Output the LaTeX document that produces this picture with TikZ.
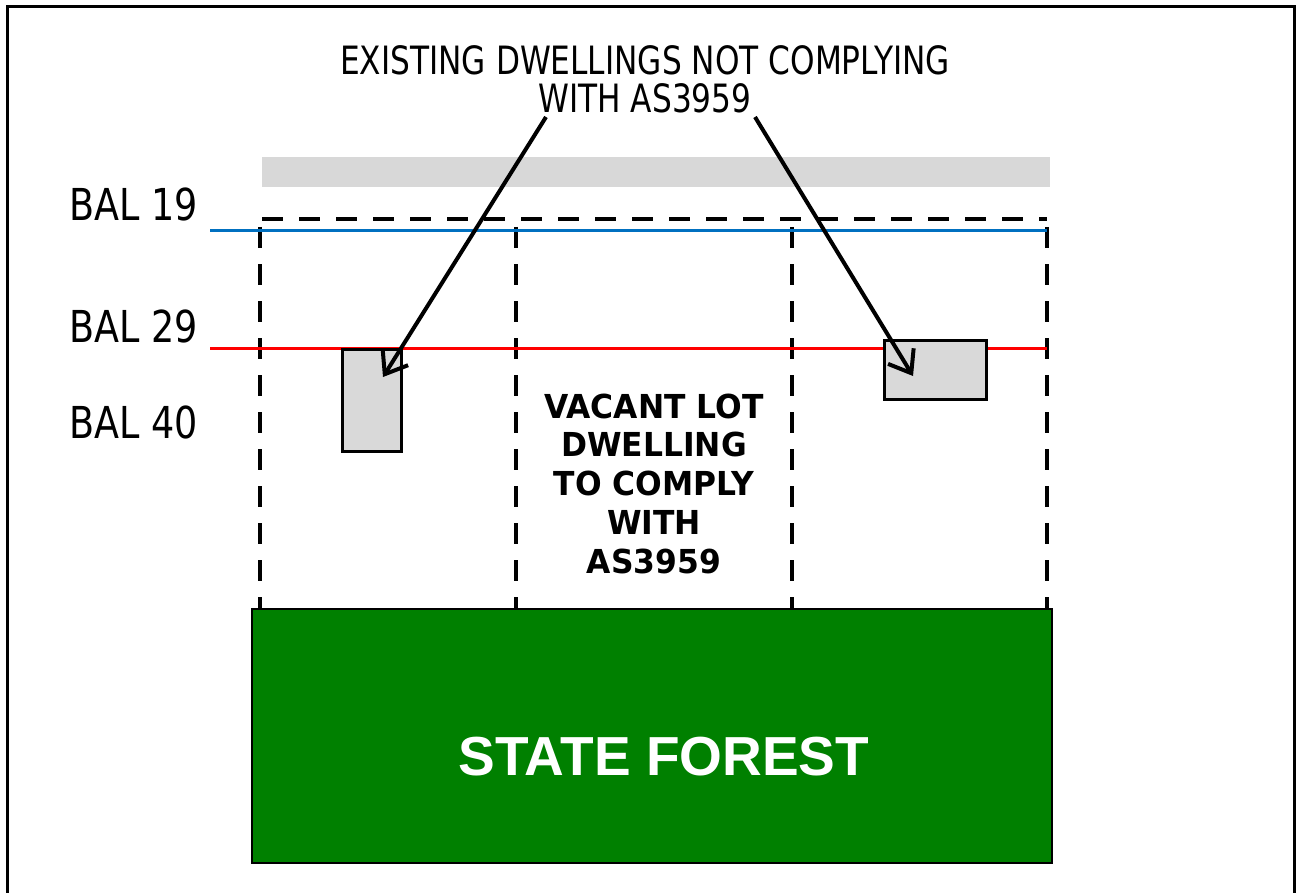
\documentclass[tikz,border=0pt]{standalone}
\usepackage{fontspec}
\usetikzlibrary{arrows.meta}
\newfontfamily\balfont[FakeStretch=0.83]{DejaVu Sans}
\newfontfamily\titfont[FakeStretch=0.80]{DejaVu Sans}
\newfontfamily\vacfont[FakeStretch=0.95]{DejaVu Sans}
\newfontfamily\forfont{Liberation Sans}
\definecolor{housegray}{RGB}{217,217,217}
\definecolor{bargray}{RGB}{216,216,216}
\definecolor{balblue}{RGB}{0,112,192}
\definecolor{balred}{RGB}{255,0,0}
\definecolor{forestgreen}{RGB}{0,128,0}
\tikzset{
  lotline/.style={line width=4pt, dash pattern=on 21pt off 16pt},
  house/.style={draw=black, line width=2.5pt, fill=housegray, inner sep=0pt, minimum width=#1},
  pointer/.style={line width=4pt, -{Straight Barb[length=20pt,width=30pt,line width=4pt]}},
  ballabel/.style={anchor=base west, inner sep=0pt, font=\balfont\fontsize{44}{44}\selectfont},
}
\begin{document}
\begin{tikzpicture}[x=1pt,y=-1pt]
\useasboundingbox (0,0) rectangle (1300,893);
\fill[white] (0,0) rectangle (1300,893);
% frame
\draw[line width=3pt] (7,893) -- (7,7) -- (1294,7) -- (1294,893);
% grey bar
\fill[bargray] (262,157) rectangle (1050,187);
% lot outline
\draw[lotline] (262,219) -- (1047,219);
\foreach \xx in {260,516,792,1047} {
  \draw[lotline] (\xx,227) -- (\xx,608);
}
% BAL lines
\draw[balblue, line width=3pt] (210,231) -- (1047,231);
\draw[balred, line width=3pt] (210,348) -- (1047,348);
% BAL labels
\node[ballabel] (bal19) at (69,221) {BAL 19};
\node[ballabel] (bal29) at (69,342) {BAL 29};
\node[ballabel] (bal40) at (69,438) {BAL 40};
% houses
\node[house=59pt, minimum height=102pt, anchor=north west] (houseL) at (341,348) {};
\node[house=102pt, minimum height=59pt, anchor=north west] (houseR) at (883,339) {};
% forest
\node[fill=forestgreen, draw=black, line width=1.5pt, minimum width=800pt, minimum height=254pt, anchor=north west, inner sep=0pt] (forest) at (251,608) {};
\node[anchor=base, inner sep=0pt, text=white, font=\forfont\bfseries\fontsize{55}{55}\selectfont] (forestlabel) at (664,775) {STATE FOREST};
% vacant lot text
\node[anchor=base, inner sep=0pt, align=center, font=\vacfont\bfseries\fontsize{33}{38.75}\selectfont] (vacant) at (654,573) {VACANT LOT\\DWELLING\\TO COMPLY\\WITH\\AS3959};
% title
\node[anchor=base, inner sep=0pt, align=center, font=\titfont\fontsize{39}{38}\selectfont] (title) at (645,113) {EXISTING DWELLINGS NOT COMPLYING\\WITH AS3959};
% pointers
\coordinate (startL) at (546,117);
\coordinate (startR) at (755,117);
\coordinate (tipL) at (383,377);
\coordinate (tipR) at (913,376);
\draw[pointer] (startL) -- (tipL);
\draw[pointer] (startR) -- (tipR);
\end{tikzpicture}
\end{document}
